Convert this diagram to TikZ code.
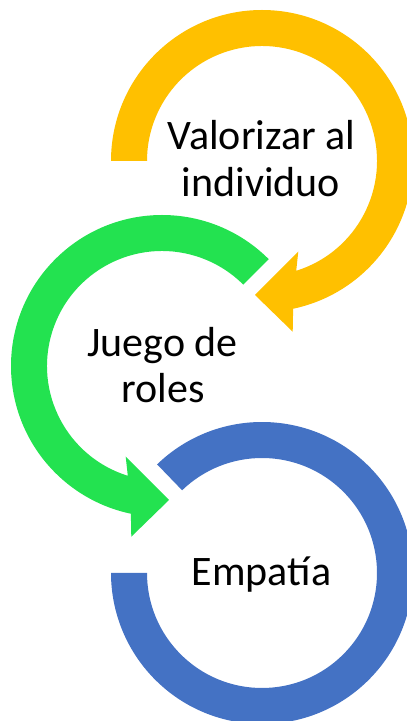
\documentclass[tikz,border=0pt]{standalone}
\usepackage{fontspec}
\setmainfont{Carlito}
\usetikzlibrary{calc}
\definecolor{ringorange}{HTML}{FFC000}
\definecolor{ringgreen}{HTML}{23E250}
\definecolor{ringblue}{HTML}{4472C4}
\begin{document}
\begin{tikzpicture}[x=1pt,y=1pt,
  lbl/.style={font=\fontsize{42}{46}\selectfont, anchor=base, inner sep=0pt, text=black}]
\useasboundingbox (0,0) rectangle (407,721);
\clip (0,0) rectangle (407,721);
\coordinate (O) at (262,560);
\coordinate (G) at (162,355);
\coordinate (B) at (262,148);
% orange circular arrow
\fill[ringorange] ($(O)+(180:151)$) arc[start angle=180,end angle=-78.1,radius=151]
  -- ($(O)+(30.7,-170.7)$) -- ($(O)+(-7,-134)$) -- ($(O)+(36.3,-90.7)$)
  -- ($(O)+(-72.7:115)$) arc[start angle=-72.7,end angle=180,radius=115] -- cycle;
% green circular arrow
\fill[ringgreen] ($(G)+(45:151)$) arc[start angle=45,end angle=258.1,radius=151]
  -- ($(G)+(-30.7,-170.7)$) -- ($(G)+(7,-134)$) -- ($(G)+(-36.3,-90.7)$)
  -- ($(G)+(252.7:115)$) arc[start angle=252.7,end angle=45,radius=115] -- cycle;
% blue ring
\fill[ringblue] ($(B)+(134:151)$) arc[start angle=134,end angle=-180,radius=151]
  -- ($(B)+(180:115)$) arc[start angle=-180,end angle=134,radius=115] -- cycle;
% labels
\node[lbl] (v1) at (261.5,571) {Valorizar al};
\node[lbl] (v2) at (261,524) {individuo};
\node[lbl] (j1) at (162.5,364) {Juego de};
\node[lbl] (j2) at (163,318) {roles};
\node[lbl] (e1) at (261.5,135) {Empatía};
\end{tikzpicture}
\end{document}
